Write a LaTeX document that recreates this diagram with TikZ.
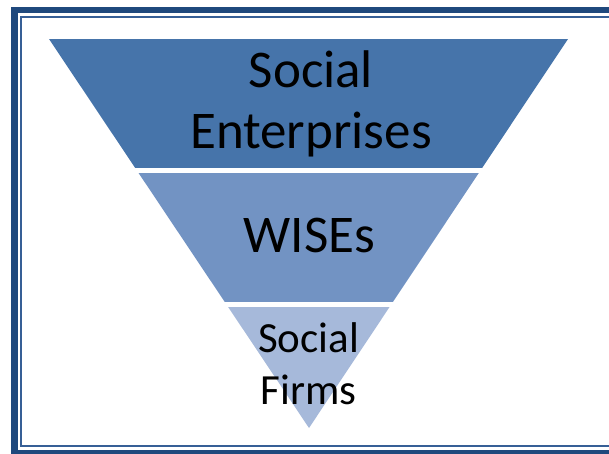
\documentclass[tikz,border=0pt]{standalone}
\usepackage{fontspec}
\setmainfont{Carlito}
\definecolor{frameDark}{RGB}{31,73,125}
\definecolor{frameThin}{RGB}{54,95,150}
\definecolor{bandA}{RGB}{70,116,170}
\definecolor{bandB}{RGB}{114,147,195}
\definecolor{bandC}{RGB}{166,185,218}
\tikzset{
  label big/.style={align=center, anchor=base, font=\fontsize{53}{61}\selectfont, inner sep=0pt},
  label small/.style={align=center, anchor=base, font=\fontsize{43}{52}\selectfont, inner sep=0pt},
}
\begin{document}
\begin{tikzpicture}[x=1pt,y=1pt]
\useasboundingbox (0,0) rectangle (609,453);
\begin{scope}
\clip (0,0) rectangle (609,453);
\draw[frameDark, line width=6.5pt] (14.3,0) rectangle (640,443);
\draw[frameThin, line width=2.2pt] (21,7) rectangle (630,436);
\end{scope}
% funnel
\coordinate (tl) at (49,414);
\coordinate (tr) at (568,414);
\coordinate (apex) at (309,25);
\begin{scope}
\clip (tl) -- (tr) -- (apex) -- cycle;
\fill[bandA] (0,285) rectangle (609,414);
\fill[bandB] (0,151) rectangle (609,280);
\fill[bandC] (0,0) rectangle (609,146);
\end{scope}
\node[label big] (se) at (311,304) {Social\\Enterprises};
\node[label big] (wise) at (309.5,201) {WISEs};
\node[label small] (sf) at (308.5,49) {Social\\Firms};
\end{tikzpicture}
\end{document}
